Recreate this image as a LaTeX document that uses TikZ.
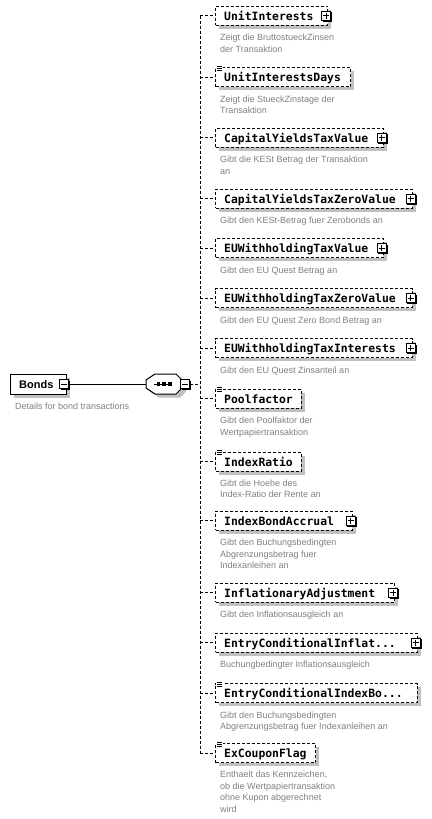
\documentclass[tikz,border=0pt]{standalone}
\usepackage{fontspec}
\setmainfont{Liberation Sans}
\newfontfamily\namefont{DejaVu Sans Mono}
\usetikzlibrary{calc}
\definecolor{shadowc}{RGB}{192,192,192}
\definecolor{descc}{RGB}{128,128,128}
\tikzset{
 conn/.style={line width=1pt, dash pattern=on 3pt off 2pt},
 elembox/.style={draw, line width=1pt, dash pattern=on 3pt off 2pt, fill=white, minimum height=19pt, inner sep=0pt},
 elemtxt/.style={font=\namefont\bfseries\fontsize{11.4}{13}\selectfont, inner sep=0pt},
 desc/.style={text=descc, inner sep=0pt, font=\fontsize{9}{11.6}\selectfont},
 pmbox/.style={draw, line width=1pt, fill=white, minimum size=9pt, inner sep=0pt},
 plainline/.style={line width=1pt},
}
\newcommand\xminus[3]{%
 \fill[black] (#2-3.5,#3-3.5) rectangle (#2+6,#3+6);
 \node[pmbox] (#1) at (#2,#3) {};
 \draw[plainline] (#1.center)+(-3,0) -- +(3,0);
}
\newcommand\xplus[3]{%
 \xminus{#1}{#2}{#3}%
 \draw[plainline] (#1.center)+(0,-3) -- +(0,3);
}
\newcommand\xicon[1]{%
 \fill[white] ($(#1.north west)+(1,-2)$) rectangle ($(#1.north west)+(8,4)$);
 \draw[line width=0.7pt] ($(#1.north west)+(1.7,-1)$) -- ++(5,0);
 \draw[line width=0.7pt] ($(#1.north west)+(2.2,1)$) -- ++(4.5,0);
 \draw[line width=0.7pt] ($(#1.north west)+(2.2,3)$) -- ++(4.5,0);
}
% name, cy, right, label, plus, icon
\newcommand\xel[6]{%
 \fill[shadowc] (219,#2-6) rectangle (#3+4,#2+13);
 \node[elembox, minimum width={#3-215}, anchor=west] (#1) at (215,#2) {};
 \node[elemtxt, anchor=base west] (#1t) at (224,#2+4.5) {#4};
 \ifnum#5=1 \xplus{#1p}{#3-1}{#2}\fi
 \ifnum#6=1 \xicon{#1}\fi
 \draw[conn] (bus |- #1.west) -- (#1.west);
}
\newcommand\xdesc[3]{%
 \node[desc, anchor=base west] (#1) at (220,#2) {\parbox[t]{200pt}{\raggedright #3}};
}
\begin{document}
\begin{tikzpicture}[x=1pt,y=-1pt]
\useasboundingbox[fill=white] (0,0) rectangle (431,819);
\coordinate (bus) at (200,384);
% vertical bus
\draw[conn] (200,15.5) coordinate (bustop) -- (200,753) coordinate (busbot);
% Bonds
\fill[shadowc] (14,377.5) rectangle (70,397.5);
\node[draw, line width=1pt, fill=white, minimum width=56pt, minimum height=20pt, inner sep=0pt] (bonds) at (38,384) {};
\node[font=\bfseries\fontsize{11}{13}\selectfont, inner sep=0pt, anchor=base west] (bondst) at (19,388.3) {Bonds};
\xminus{bondsm}{64}{384}
\node[desc, anchor=base west] (bondsd) at (15,409) {Details for bond transactions};
% sequence compositor
\node[minimum width=36pt, minimum height=20pt, inner sep=0pt] (seq) at (164,384) {};
\fill[shadowc] (150,383.5) -- (159,377.5) -- (180,377.5) -- (186,383.5) -- (186,391.5) -- (180,397.5) -- (159,397.5) -- (150,391.5) -- cycle;
\filldraw[fill=white, line width=1pt] (146,380) -- (155,374) -- (176,374) -- (182,380) -- (182,388) -- (176,394) -- (155,394) -- (146,388) -- cycle;
\draw[line width=1pt] (154,384) -- (172,384);
\fill (156.7,382.4) rectangle ++(3.4,3.4);
\fill (162.3,382.4) rectangle ++(3.4,3.4);
\fill (168.3,382.4) rectangle ++(3.4,3.4);
\draw[plainline] (bondsm.east) -- (seq.west);
\xminus{seqm}{185}{384}
\draw[conn] (seqm.east) -- (bus);
% elements
\xel{e1}{15.5}{327}{UnitInterests}{1}{0}
\xdesc{d1}{40.5}{Zeigt die BruttostueckZinsen\\der Transaktion}
\xel{e2}{77}{350}{UnitInterestsDays}{0}{1}
\xdesc{d2}{102}{Zeigt die StueckZinstage der\\Transaktion}
\xel{e3}{137.5}{382.7}{CapitalYieldsTaxValue}{1}{0}
\xdesc{d3}{162.5}{Gibt die KESt Betrag der Transaktion\\an}
\xel{e4}{198.5}{411.7}{CapitalYieldsTaxZeroValue}{1}{0}
\xdesc{d4}{223.5}{Gibt den KESt-Betrag fuer Zerobonds an}
\xel{e5}{248}{382.7}{EUWithholdingTaxValue}{1}{0}
\xdesc{d5}{273}{Gibt den EU Quest Betrag an}
\xel{e6}{298}{411.7}{EUWithholdingTaxZeroValue}{1}{0}
\xdesc{d6}{323}{Gibt den EU Quest Zero Bond Betrag an}
\xel{e7}{348}{411.7}{EUWithholdingTaxInterests}{1}{0}
\xdesc{d7}{373}{Gibt den EU Quest Zinsanteil an}
\xel{e8}{398.5}{300.7}{Poolfactor}{0}{1}
\xdesc{d8}{423.5}{Gibt den Poolfaktor der\\Wertpapiertransaktion}
\xel{e9}{461.5}{300.7}{IndexRatio}{0}{1}
\xdesc{d9}{486}{Gibt die Hoehe des\\Index-Ratio der Rente an}
\xel{e10}{520.5}{351.7}{IndexBondAccrual}{1}{0}
\xdesc{d10}{545.5}{Gibt den Buchungsbedingten\\Abgrenzungsbetrag fuer\\Indexanleihen an}
\xel{e11}{592.5}{394}{InflationaryAdjustment}{1}{0}
\xdesc{d11}{617.5}{Gibt den Inflationsausgleich an}
\xel{e12}{642.5}{416.7}{EntryConditionalInflat...}{1}{0}
\xdesc{d12}{667.5}{Buchungbedingter Inflationsausgleich}
\xel{e13}{693}{416.7}{EntryConditionalIndexBo...}{0}{1}
\xdesc{d13}{718}{Gibt den Buchungsbedingten\\Abgrenzungsbetrag fuer Indexanleihen an}
\xel{e14}{753}{315}{ExCouponFlag}{0}{1}
\xdesc{d14}{777.5}{Enthaelt das Kennzeichen,\\ob die Wertpapiertransaktion\\ohne Kupon abgerechnet\\wird}
\end{tikzpicture}
\end{document}
